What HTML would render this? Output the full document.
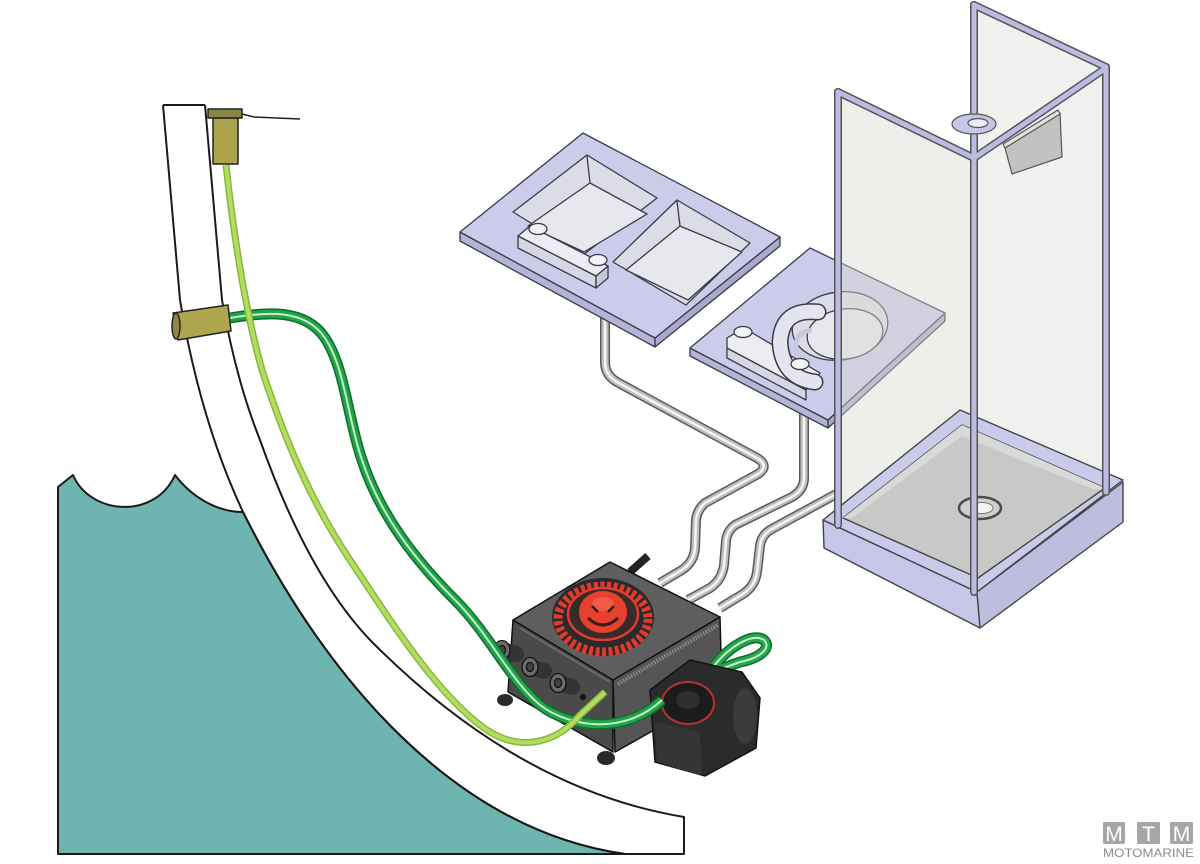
<!DOCTYPE html>
<html><head><meta charset="utf-8"><style>
html,body{margin:0;padding:0;background:#fff;}
svg{display:block;}
</style></head><body>
<svg width="1200" height="864" viewBox="0 0 1200 864" xmlns="http://www.w3.org/2000/svg">
<defs>
<path id="pA" d="M605,300 L605,362 Q605,375 617,382 L757,458 Q770,466 758,474 L705,503 Q697,510 696,520 L695,548 Q694,562 682,570 L660,583"/>
<path id="pB" d="M804,410 L804,478 Q804,490 792,497 L735,525 Q727,531 726,541 L724,565 Q722,580 710,588 L688,600"/>
<path id="pC" d="M840,492 L770,530 Q761,536 760,546 L757,572 Q755,586 743,594 L720,608"/>
<path id="dg" d="M230,318 C 265,312 305,308 325,338 C 345,368 348,420 362,460 C 380,515 415,560 455,600 C 490,635 510,680 540,705 C 570,728 625,735 662,700"/>
<path id="lg" d="M226,165 C 233,230 245,310 262,370 C 285,440 310,500 350,560 C 390,620 440,700 490,732 C 520,750 555,745 580,715 L605,692"/>
<path id="loop" d="M714,666 C 728,648 752,632 764,640 C 772,648 760,658 740,662 L718,670"/>
</defs>

<rect width="1200" height="864" fill="#fff"/>

<!-- Water -->
<path d="M58,487 L73,475 C 90,515 155,520 175,475 C 190,495 215,512 243,512 C 327,680 455,830 625,854 L58,854 Z" fill="#6eb5b2" stroke="#1a1a1a" stroke-width="2" stroke-linejoin="round"/>

<!-- Hull -->
<g fill="none" stroke="#1a1a1a" stroke-width="2" stroke-linejoin="round">
<path d="M163,105 L180,300 Q200,420 243,512 C 327,680 455,830 625,854"/>
<path d="M205,105 L222,300 Q236,380 260,440 Q309,578 373,643 Q520,790 684,817 L684,854 L58,854"/>
<path d="M163,105 L205,105"/>
</g>

<!-- Gray pipes -->
<g fill="none" stroke-linejoin="round">
<use href="#pA" stroke="#5a5a5a" stroke-width="10"/>
<use href="#pA" stroke="#bdbdbd" stroke-width="7"/>
<use href="#pA" stroke="#f5f5f5" stroke-width="2.5"/>
<use href="#pB" stroke="#5a5a5a" stroke-width="10"/>
<use href="#pB" stroke="#bdbdbd" stroke-width="7"/>
<use href="#pB" stroke="#f5f5f5" stroke-width="2.5"/>
<use href="#pC" stroke="#5a5a5a" stroke-width="10"/>
<use href="#pC" stroke="#bdbdbd" stroke-width="7"/>
<use href="#pC" stroke="#f5f5f5" stroke-width="2.5"/>
</g>

<!-- Double sink -->
<g stroke="#3a3a4a" stroke-width="1.3" stroke-linejoin="round">
<polygon points="460,232 655,338 655,347 460,241" fill="#b4b4d6"/>
<polygon points="655,338 780,237 780,246 655,347" fill="#a9a9cc"/>
<polygon points="460,232 583,133 780,237 655,338" fill="#cbcbea"/>
<polygon points="513,212 587,155 657,198 583,255" fill="#dcdce6"/>
<polygon points="528,226 590,183 647,214 584,252" fill="#e7e7ee"/>
<line x1="587" y1="156" x2="590" y2="183"/>
<polygon points="613,262 677,200 750,243 686,305" fill="#dcdce6"/>
<polygon points="626,270 680,226 742,252 688,300" fill="#e7e7ee"/>
<line x1="677" y1="201" x2="680" y2="226"/>
<polygon points="518,236 596,276 596,288 518,248" fill="#d6d6e4"/>
<polygon points="596,276 608,266 608,278 596,288" fill="#c8c8da"/>
<polygon points="518,236 530,226 608,266 596,276" fill="#ececf3"/>
<ellipse cx="538" cy="229" rx="9" ry="5.5" fill="#f2f2f7"/>
<ellipse cx="598" cy="260" rx="9" ry="5.5" fill="#f2f2f7"/>
</g>

<!-- Small sink -->
<g stroke="#3a3a4a" stroke-width="1.3" stroke-linejoin="round">
<polygon points="690,348 828,420 828,428 690,356" fill="#b4b4d6"/>
<polygon points="828,420 945,313 945,321 828,428" fill="#a9a9cc"/>
<polygon points="690,348 810,248 945,313 828,420" fill="#cbcbea"/>
<ellipse cx="840" cy="326" rx="48" ry="34" transform="rotate(-8 840 326)" fill="#dcdce6"/>
<ellipse cx="845" cy="334" rx="38" ry="25" transform="rotate(-8 845 334)" fill="#e7e7ee"/>
<polygon points="727,348 806,390 806,400 727,358" fill="#d6d6e4"/>
<polygon points="727,338 744,328 820,373 806,390 727,348" fill="#ececf3"/>
<path d="M818,312 Q782,308 780,342 Q782,378 815,382" fill="none" stroke="#3a3a4a" stroke-width="17" stroke-linecap="round"/>
<path d="M818,312 Q782,308 780,342 Q782,378 815,382" fill="none" stroke="#e4e4ee" stroke-width="14" stroke-linecap="round"/>
<path d="M812,330 Q795,332 796,348 Q798,360 812,362" fill="none" stroke="#c8c8dc" stroke-width="5"/>
<ellipse cx="743" cy="332" rx="9" ry="5.5" fill="#f2f2f7"/>
<ellipse cx="800" cy="364" rx="9" ry="5.5" fill="#f2f2f7"/>
</g>

<!-- Shower glass -->
<polygon points="973,5 1105,67 1105,490 973,430" fill="#f1f1ef"/>
<polygon points="837,92 973,158 973,590 837,522" fill="rgba(218,218,210,0.45)"/>

<!-- Shower head & soap box -->
<g stroke="#555" stroke-width="1.2" stroke-linejoin="round">
<polygon points="1005,148 1060,113 1062,157 1012,174" fill="#c2c2c2"/>
<polygon points="1003,144 1058,110 1060,114 1005,148" fill="#e2e2e2"/>
</g>

<!-- Tray -->
<g stroke="#444" stroke-width="1.4" stroke-linejoin="round">
<polygon points="823,520 977,592 980,628 824,548" fill="#c6c6e8"/>
<polygon points="977,592 1123,482 1123,522 980,628" fill="#bdbde0"/>
<polygon points="823,520 960,410 1123,480 977,592" fill="#cacaea"/>
<polygon points="843,518 962,425 1105,488 978,578" fill="#c8c8c8"/>
<polygon points="843,518 962,425 1105,488 1095,490 962,436 852,518" fill="#d9d9d9" stroke="none"/>
<ellipse cx="980" cy="508" rx="21" ry="11" fill="#cfcfcf" stroke="#4a4a4a" stroke-width="2.5"/>
<ellipse cx="982" cy="508" rx="11" ry="5.5" fill="#f4f4f4" stroke="#777" stroke-width="1"/>
</g>

<!-- Shower frame -->
<g fill="none" stroke-linecap="round">
<g stroke="#555" stroke-width="8">
<line x1="838" y1="92" x2="838" y2="525"/>
<line x1="974" y1="5" x2="974" y2="592"/>
<line x1="1106" y1="67" x2="1106" y2="492"/>
<line x1="838" y1="92" x2="974" y2="158"/>
<line x1="974" y1="158" x2="1106" y2="68"/>
<line x1="974" y1="5" x2="1106" y2="67"/>
</g>
<g stroke="#bcbce2" stroke-width="5">
<line x1="838" y1="92" x2="838" y2="525"/>
<line x1="974" y1="5" x2="974" y2="592"/>
<line x1="1106" y1="67" x2="1106" y2="492"/>
<line x1="838" y1="92" x2="974" y2="158"/>
<line x1="974" y1="158" x2="1106" y2="68"/>
<line x1="974" y1="5" x2="1106" y2="67"/>
</g>
</g>
<g stroke="#555" stroke-width="1.2">
<ellipse cx="974" cy="124" rx="22" ry="10" fill="#c6c6e6"/>
<ellipse cx="978" cy="123" rx="10" ry="4.5" fill="#ececf6"/>
</g>

<!-- Pump -->
<g stroke="#111" stroke-width="1.5" stroke-linejoin="round">
<line x1="630" y1="572" x2="648" y2="556" stroke="#222" stroke-width="8"/>
<polygon points="513,620 613,680 613,752 508,692" fill="#4a4a4a"/>
<polygon points="613,680 720,617 722,692 615,752" fill="#555"/>
<polygon points="513,620 610,562 720,617 613,680" fill="#5e5e5e"/>
</g>
<line x1="618" y1="684" x2="718" y2="625" stroke="#8a8a8a" stroke-width="4" stroke-dasharray="1.5 1.5"/>
<line x1="520" y1="628" x2="610" y2="682" stroke="#6a6a6a" stroke-width="2"/>
<!-- impeller -->
<ellipse cx="603" cy="617" rx="51" ry="39" fill="#2a2a2a"/>
<ellipse cx="603" cy="619" rx="45" ry="33" fill="none" stroke="#e23a2c" stroke-width="9" stroke-dasharray="4 2.5"/>
<ellipse cx="603" cy="614" rx="35" ry="26" fill="#3a2b2b" stroke="#e23a2c" stroke-width="2.5"/>
<ellipse cx="603" cy="612" rx="24" ry="21" fill="#e8402f"/>
<ellipse cx="603" cy="604" rx="11" ry="7" fill="#f25a45"/>
<path d="M588,618 Q603,632 618,618" stroke="#3a1a1a" fill="none" stroke-width="3"/>
<path d="M592,606 L598,612 M614,606 L608,612" stroke="#3a1a1a" stroke-width="2.5"/>
<!-- knobs -->
<g stroke="#111" stroke-width="1.3">
<line x1="502" y1="650" x2="516" y2="654" stroke="#333" stroke-width="16" stroke-linecap="round"/>
<ellipse cx="502" cy="650" rx="8" ry="9.5" fill="#6a6a6a"/>
<ellipse cx="502" cy="650" rx="3.5" ry="4.5" fill="#444"/>
<line x1="530" y1="667" x2="544" y2="671" stroke="#333" stroke-width="16" stroke-linecap="round"/>
<ellipse cx="530" cy="667" rx="8" ry="9.5" fill="#6a6a6a"/>
<ellipse cx="530" cy="667" rx="3.5" ry="4.5" fill="#444"/>
<line x1="558" y1="683" x2="572" y2="687" stroke="#333" stroke-width="16" stroke-linecap="round"/>
<ellipse cx="558" cy="683" rx="8" ry="9.5" fill="#6a6a6a"/>
<ellipse cx="558" cy="683" rx="3.5" ry="4.5" fill="#444"/>
</g>
<ellipse cx="505" cy="700" rx="8" ry="6" fill="#2a2a2a"/>
<ellipse cx="606" cy="758" rx="9" ry="7" fill="#2a2a2a"/>
<ellipse cx="583" cy="697" rx="3" ry="3" fill="#111"/>
<!-- green loop (behind valve) -->
<g fill="none" stroke-linecap="round" stroke-linejoin="round">
<use href="#loop" stroke="#0b6e2c" stroke-width="11"/>
<use href="#loop" stroke="#27a64a" stroke-width="8"/>
<use href="#loop" stroke="#c4f0d0" stroke-width="2"/>
</g>
<!-- valve -->
<path d="M650,690 L690,660 L742,672 L760,698 L756,748 L705,776 L655,762 Z" fill="#2b2b2b" stroke="#111" stroke-width="1.5"/>
<polygon points="655,722 700,732 702,776 657,762" fill="#353535"/>
<ellipse cx="745" cy="716" rx="12" ry="28" fill="#3a3a3a"/>
<ellipse cx="688" cy="703" rx="26" ry="21" fill="#1c1c1c" stroke="#b8322a" stroke-width="2"/>
<ellipse cx="688" cy="700" rx="12" ry="9" fill="#2e2e2e"/>

<!-- green pipes -->
<g fill="none">
<use href="#dg" stroke="#0b6e2c" stroke-width="11"/>
<use href="#dg" stroke="#22a347" stroke-width="8"/>
<use href="#dg" stroke="#c4f0d0" stroke-width="2"/>
<use href="#lg" stroke="#86b93a" stroke-width="7"/>
<use href="#lg" stroke="#b4dc62" stroke-width="4"/>
</g>

<!-- fittings -->
<polyline points="242,114 254,117 300,119" fill="none" stroke="#222" stroke-width="1.6"/>
<g stroke="#222" stroke-width="1.5" stroke-linejoin="round">
<rect x="213" y="118" width="25" height="46" fill="#aca44c"/>
<rect x="208" y="109" width="34" height="9" fill="#8a8446"/>
<polygon points="173,313 228,305 231,331 178,340" fill="#aea64c"/>
<ellipse cx="176" cy="326" rx="4" ry="13" fill="#8f8840"/>
</g>

<!-- logo -->
<g font-family="Liberation Sans, sans-serif">
<rect x="1103" y="822" width="22" height="22" rx="1.5" fill="#a6a6a6"/>
<rect x="1137" y="822" width="23" height="22" rx="1.5" fill="#a6a6a6"/>
<rect x="1170" y="822" width="23" height="22" rx="1.5" fill="#a6a6a6"/>
<text x="1114" y="841" font-size="21" fill="#fff" text-anchor="middle">M</text>
<text x="1148.5" y="841" font-size="21" fill="#fff" text-anchor="middle">T</text>
<text x="1181.5" y="841" font-size="21" fill="#fff" text-anchor="middle">M</text>
<text x="1103" y="857" font-size="11.5" fill="#8c8c8c" textLength="91" lengthAdjust="spacingAndGlyphs">MOTOMARINE</text>
</g>
</svg>
</body></html>
